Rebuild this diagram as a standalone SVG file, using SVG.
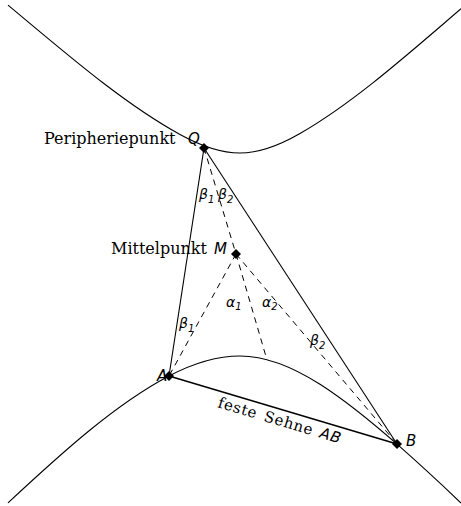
<svg xmlns="http://www.w3.org/2000/svg" width="461" height="506" viewBox="0 0 461 506">
<defs>
<style>
.curve{fill:none;stroke:#000;stroke-width:1.1}
.solid{stroke:#000;stroke-width:1.1;fill:none}
.chord{stroke:#000;stroke-width:1.5;fill:none}
.dash{stroke:#000;stroke-width:1;stroke-dasharray:6 5;fill:none}
.lbl{font-family:"DejaVu Serif",serif;font-size:16px;fill:#000}
.math{font-family:"DejaVu Sans","Liberation Sans",sans-serif;font-style:italic;font-size:15px;fill:#000}
.greek{font-family:"DejaVu Sans","Liberation Sans",sans-serif;font-style:italic;font-size:14px;fill:#000}
.sub{font-size:10px}
.chordtxt{font-family:"DejaVu Serif",serif;font-size:15px;letter-spacing:0.7px;word-spacing:2px;fill:#000}
</style>
<polygon id="dia" points="0,-5 5,0 0,5 -5,0" fill="#000"/>
</defs>
<rect width="461" height="506" fill="#fff"/>
<g id="curves">
<path class="curve" d="M8,5.1 C65.3,52.8 122.7,103 180,134.5 C200,145.5 220,153 240,153 C260,153 280,145 300,133.5 C353.7,102.6 407.3,54.7 461,8.75"/>
<path class="curve" d="M8,502.9 C61.7,452.9 115.3,404.2 169,376 C192.7,363.5 216.3,356 240,356 C266.7,356 293.3,367.3 320,384.3 C345.7,400.7 371.3,421.7 397,444.2 C418.3,462.9 439.7,482.7 461,503"/>
</g>
<g id="connectors">
<line class="solid" x1="204" y1="148" x2="169" y2="376"/>
<line class="solid" x1="204" y1="148" x2="397" y2="444"/>
<line class="chord" x1="169" y1="376" x2="397" y2="444"/>
<line class="dash" x1="204" y1="148" x2="236" y2="254"/>
<line class="dash" x1="236" y1="254" x2="169" y2="376"/>
<line class="dash" x1="236" y1="254" x2="267" y2="360"/>
<line class="dash" x1="236" y1="254" x2="397" y2="444"/>
</g>
<g id="node-Q">
<use href="#dia" x="204" y="148"/>
<text class="lbl" x="44" y="144">Peripheriepunkt</text>
<text class="math" x="188" y="144">Q</text>
</g>
<g id="node-M">
<use href="#dia" x="236" y="254"/>
<text class="lbl" x="111" y="254">Mittelpunkt</text>
<text class="math" x="214" y="254">M</text>
</g>
<g id="node-A">
<use href="#dia" x="169" y="376"/>
<text class="math" x="157" y="381">A</text>
</g>
<g id="node-B">
<use href="#dia" x="397" y="444"/>
<text class="math" x="406" y="446">B</text>
</g>
<g id="angle-labels">
<text class="greek" x="199" y="199">β<tspan class="sub" dy="4">1</tspan></text>
<text class="greek" x="218" y="199">β<tspan class="sub" dy="4">2</tspan></text>
<text class="greek" x="226" y="307">α<tspan class="sub" dy="3">1</tspan></text>
<text class="greek" x="262" y="307">α<tspan class="sub" dy="3">2</tspan></text>
<text class="greek" x="179" y="328">β<tspan class="sub" dy="4">1</tspan></text>
<text class="greek" x="310" y="345">β<tspan class="sub" dy="4">2</tspan></text>
</g>
<g id="chord-label" transform="translate(278.4,425.3) rotate(16.6)">
<text class="chordtxt" x="0" y="0" text-anchor="middle">feste Sehne <tspan class="math" style="font-size:15px">AB</tspan></text>
</g>
</svg>
